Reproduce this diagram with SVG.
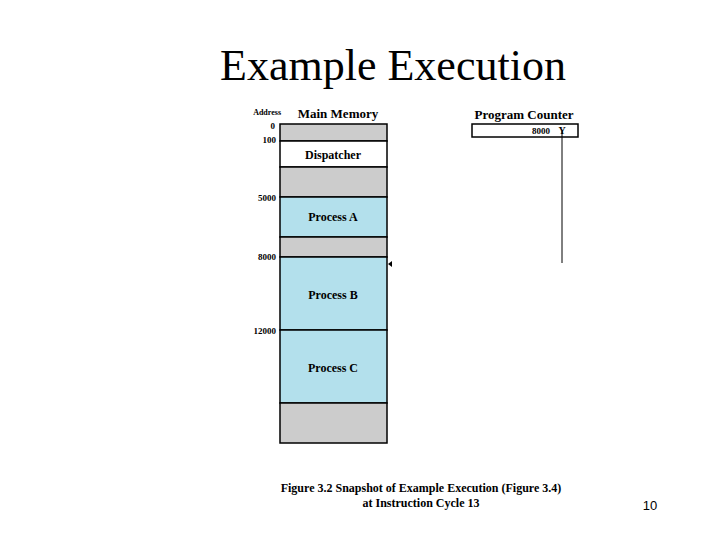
<svg xmlns="http://www.w3.org/2000/svg" width="720" height="540" viewBox="0 0 720 540">
<style>
.s{stroke:#000;stroke-width:1.5}
.g{fill:#cccccc}.b{fill:#b3e0ec}.w{fill:#fff}
.t{font-family:"Liberation Serif",serif;font-weight:bold;fill:#000}
</style>
<rect width="720" height="540" fill="#fff"/>
<text x="393" y="80" text-anchor="middle" font-family="Liberation Serif,serif" font-size="44" fill="#000">Example Execution</text>
<g id="memory">
<rect class="s g" x="280" y="124" width="107" height="17"/>
<g id="dispatcher"><rect class="s w" x="280" y="141" width="107" height="26"/><text class="t" x="333" y="159" text-anchor="middle" font-size="12">Dispatcher</text></g>
<rect class="s g" x="280" y="167" width="107" height="30"/>
<g id="processA"><rect class="s b" x="280" y="197" width="107" height="40"/><text class="t" x="333" y="221" text-anchor="middle" font-size="12">Process A</text></g>
<rect class="s g" x="280" y="237" width="107" height="20"/>
<g id="processB"><rect class="s b" x="280" y="257" width="107" height="73"/><text class="t" x="333" y="299" text-anchor="middle" font-size="12">Process B</text></g>
<g id="processC"><rect class="s b" x="280" y="330" width="107" height="73"/><text class="t" x="333" y="372" text-anchor="middle" font-size="12">Process C</text></g>
<rect class="s g" x="280" y="403" width="107" height="40"/>
</g>
<g id="labels">
<text class="t" x="281" y="115" font-size="8" font-weight="normal" text-anchor="end">Address</text>
<text class="t" x="338" y="118" font-size="13" text-anchor="middle">Main Memory</text>
<text class="t" x="275" y="129" font-size="9" text-anchor="end">0</text>
<text class="t" x="276" y="143" font-size="9" text-anchor="end">100</text>
<text class="t" x="276" y="201" font-size="9" text-anchor="end">5000</text>
<text class="t" x="276" y="260" font-size="9" text-anchor="end">8000</text>
<text class="t" x="276" y="334" font-size="9" text-anchor="end">12000</text>
</g>
<g id="pc">
<text class="t" x="524" y="119" text-anchor="middle" font-size="13">Program Counter</text>
<rect x="472" y="124" width="106" height="13" fill="#fff" stroke="#000" stroke-width="1.5"/>
<text class="t" x="550" y="134" text-anchor="end" font-size="9">8000</text>
<text class="t" x="562" y="134" text-anchor="middle" font-size="10">Y</text>
</g>
<g id="connectors">
<line x1="562" y1="131" x2="562" y2="263" stroke="#000" stroke-width="1"/>
<polygon points="388,264 392,261 392,267" fill="#000"/>
</g>
<text class="t" x="421" y="492" text-anchor="middle" font-size="12">Figure 3.2  Snapshot of Example Execution (Figure 3.4)</text>
<text class="t" x="421" y="507" text-anchor="middle" font-size="12">at Instruction Cycle 13</text>
<text x="650" y="510" text-anchor="middle" font-family="Liberation Sans,sans-serif" font-size="13" fill="#000">10</text>
</svg>
